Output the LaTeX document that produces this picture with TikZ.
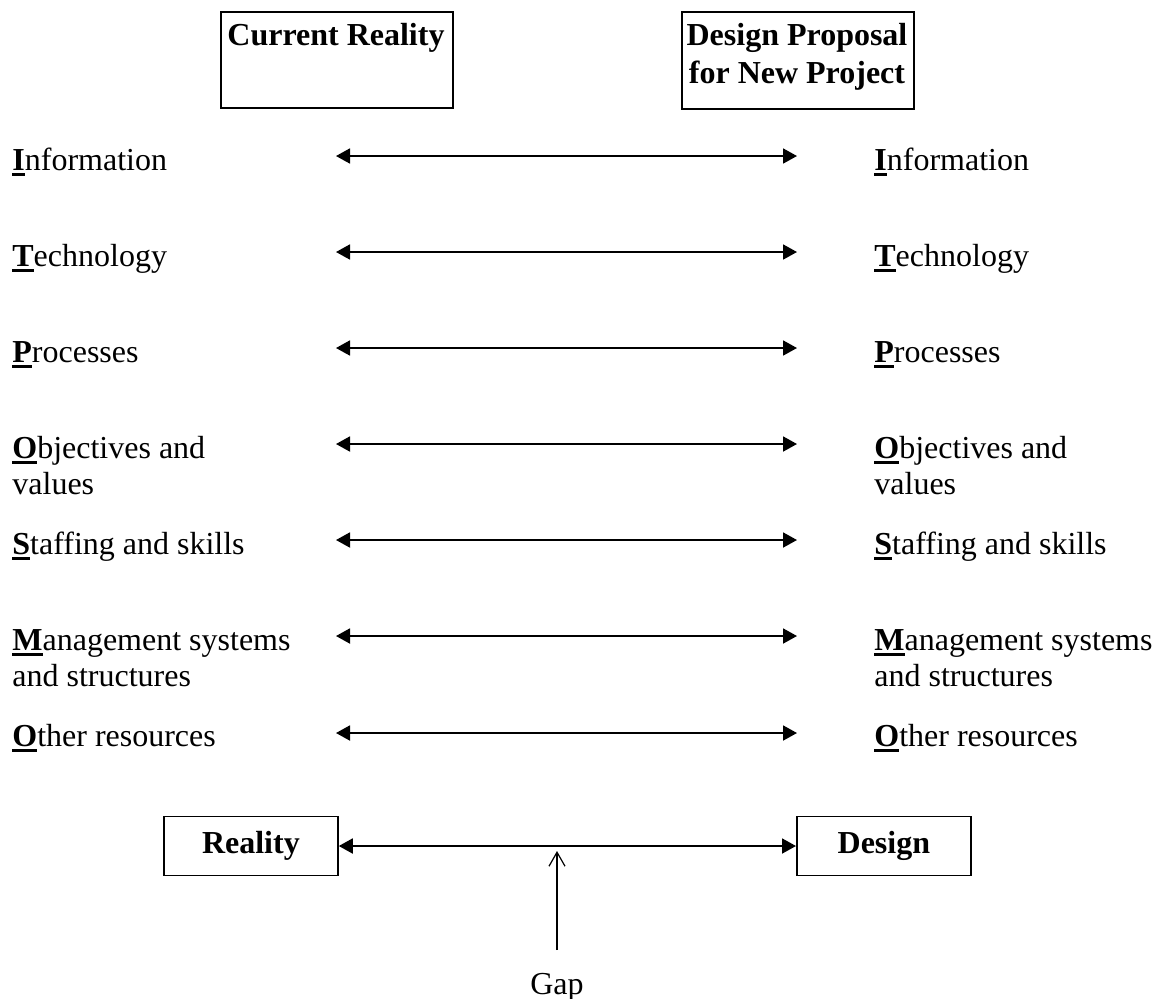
\documentclass[tikz,border=0pt]{standalone}
\usepackage{fontspec}
\setmainfont{Liberation Serif}
\usetikzlibrary{arrows.meta}
\newcommand{\firstl}[1]{\setbox0\hbox{\textbf{#1}}\rlap{\rule[-3pt]{\wd0}{1.4pt}}\box0}
\begin{document}
\begin{tikzpicture}[x=0.5pt,y=-0.5pt,
  lbl/.style={anchor=base west, inner sep=0pt, align=left, font=\fontsize{16}{18}\selectfont},
  boxed/.style={draw, line width=0.9pt, anchor=north west, inner sep=0pt},
  boldtxt/.style={anchor=base, inner sep=0pt, align=center, font=\fontsize{16}{19}\selectfont\bfseries},
  dbl/.style={line width=0.9pt, {Triangle[length=7pt,width=7.5pt]}-{Triangle[length=7pt,width=7.5pt]}},
  gaparrow/.style={line width=0.6pt, -{Straight Barb[length=7pt,width=8pt]}}
]
\useasboundingbox (0,0) rectangle (1158,998);

% header boxes
\node[boxed, minimum width=116pt, minimum height=48pt] (crbox) at (220,11) {};
\node[boldtxt] (crtext) at (336,45) {Current Reality};
\node[boxed, minimum width=116pt, minimum height=48.5pt] (dpbox) at (681,11) {};
% base anchor of a two-line node is the baseline of its last line
\node[boldtxt] (dptext) at (797,83) {Design Proposal\\for New Project};

% left labels (two-line nodes placed by their last baseline)
\node[lbl] (l1) at (12,170) {\firstl{I}nformation};
\node[lbl] (l2) at (12,266) {\firstl{T}echnology};
\node[lbl] (l3) at (12,362) {\firstl{P}rocesses};
\node[lbl] (l4) at (12,494) {\firstl{O}bjectives and\\values};
\node[lbl] (l5) at (12,554) {\firstl{S}taffing and skills};
\node[lbl] (l6) at (12,686) {\firstl{M}anagement systems\\and structures};
\node[lbl] (l7) at (12,746) {\firstl{O}ther resources};

% right labels
\node[lbl] (r1) at (874,170) {\firstl{I}nformation};
\node[lbl] (r2) at (874,266) {\firstl{T}echnology};
\node[lbl] (r3) at (874,362) {\firstl{P}rocesses};
\node[lbl] (r4) at (874,494) {\firstl{O}bjectives and\\values};
\node[lbl] (r5) at (874,554) {\firstl{S}taffing and skills};
\node[lbl] (r6) at (874,686) {\firstl{M}anagement systems\\and structures};
\node[lbl] (r7) at (874,746) {\firstl{O}ther resources};

% arrow end points
\foreach \i/\y in {1/156,2/252,3/348,4/444,5/540,6/636,7/733}{
  \coordinate (aL\i) at (336,\y);
  \coordinate (aR\i) at (797,\y);
  \draw[dbl] (aL\i) -- (aR\i);
}

% bottom boxes
\node[boxed, minimum width=87pt, minimum height=29.5pt, anchor=west, inner sep=0pt,
      font=\fontsize{16}{18}\selectfont\bfseries] (reality) at (163,846) {Reality};
\node[boxed, minimum width=87pt, minimum height=29.5pt, anchor=west, inner sep=0pt,
      font=\fontsize{16}{18}\selectfont\bfseries] (design) at (796,846) {Design};
\draw[dbl] (reality.east) -- (design.west);

% gap
\node[anchor=base, inner sep=0pt, font=\fontsize{16}{18}\selectfont] (gap) at (557,994) {Gap};
\coordinate (gapstart) at (557,950);
\coordinate (gapend) at (557,851);
\draw[gaparrow] (gapstart) -- (gapend);
\end{tikzpicture}
\end{document}
